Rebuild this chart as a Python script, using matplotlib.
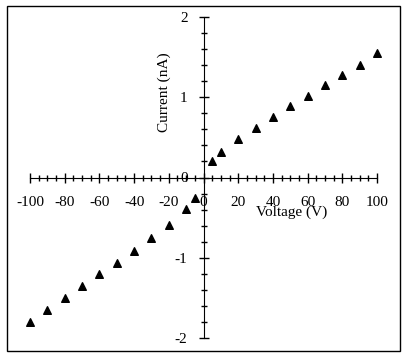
import matplotlib
matplotlib.use("Agg")
import matplotlib.pyplot as plt
from matplotlib.patches import Rectangle
from matplotlib.ticker import MultipleLocator

# Data
voltage = [-100, -90, -80, -70, -60, -50, -40, -30, -20, -10, -5,
           5, 10, 20, 30, 40, 50, 60, 70, 80, 90, 100]
current = [-1.80, -1.65, -1.50, -1.355, -1.205, -1.06, -0.91, -0.76, -0.59, -0.39, -0.25,
           0.205, 0.32, 0.48, 0.62, 0.755, 0.89, 1.01, 1.15, 1.28, 1.40, 1.55]

plt.rcParams['font.family'] = ['Liberation Serif', 'DejaVu Serif']

W, H = 407, 359
fig = plt.figure(figsize=(W/100, H/100), dpi=100)

# outer frame
fig.patches.append(Rectangle((7/W, 1 - 351/H), 393/W, 345/H, transform=fig.transFigure,
                             fill=False, edgecolor='black', linewidth=1))

ax = fig.add_axes([30/W, 1 - 338/H, 347/W, 321/H])
ax.scatter(voltage, current, marker='^', s=30, color='black', zorder=3, clip_on=False)

ax.set_xlim(-100, 100)
ax.set_ylim(-2, 2)
ax.spines['left'].set_position(('data', 0))
ax.spines['bottom'].set_position(('data', 0))
ax.spines['top'].set_visible(False)
ax.spines['right'].set_visible(False)
ax.patch.set_visible(False)

ax.xaxis.set_major_locator(MultipleLocator(20))
ax.xaxis.set_minor_locator(MultipleLocator(5))
ax.yaxis.set_major_locator(MultipleLocator(1))
ax.yaxis.set_minor_locator(MultipleLocator(0.2))

ax.tick_params(which='major', direction='inout', length=7, width=1, labelsize=11)
ax.tick_params(which='minor', direction='inout', length=5, width=1)
ax.tick_params(axis='x', which='major', pad=10)
ax.tick_params(axis='y', which='major', pad=8)
ax.set_xticks([-100, -80, -60, -40, -20, 0, 20, 40, 60, 80, 100])
ax.set_xticklabels(['-100', '-80', '-60', '-40', '-20', '0', '20', '40', '60', '80', '100'])
ax.set_yticks([-2, -1, 0, 1, 2])
ax.set_yticklabels(['-2', '-1', '0', '1', '2'])

ax.text(0.755, 0.393, 'Voltage (V)', transform=ax.transAxes, ha='center', va='center', fontsize=11)
ax.text(0.386, 0.766, 'Current (nA)', transform=ax.transAxes, ha='center', va='center',
        rotation=90, fontsize=11)

fig.savefig('out.png', dpi=100)
